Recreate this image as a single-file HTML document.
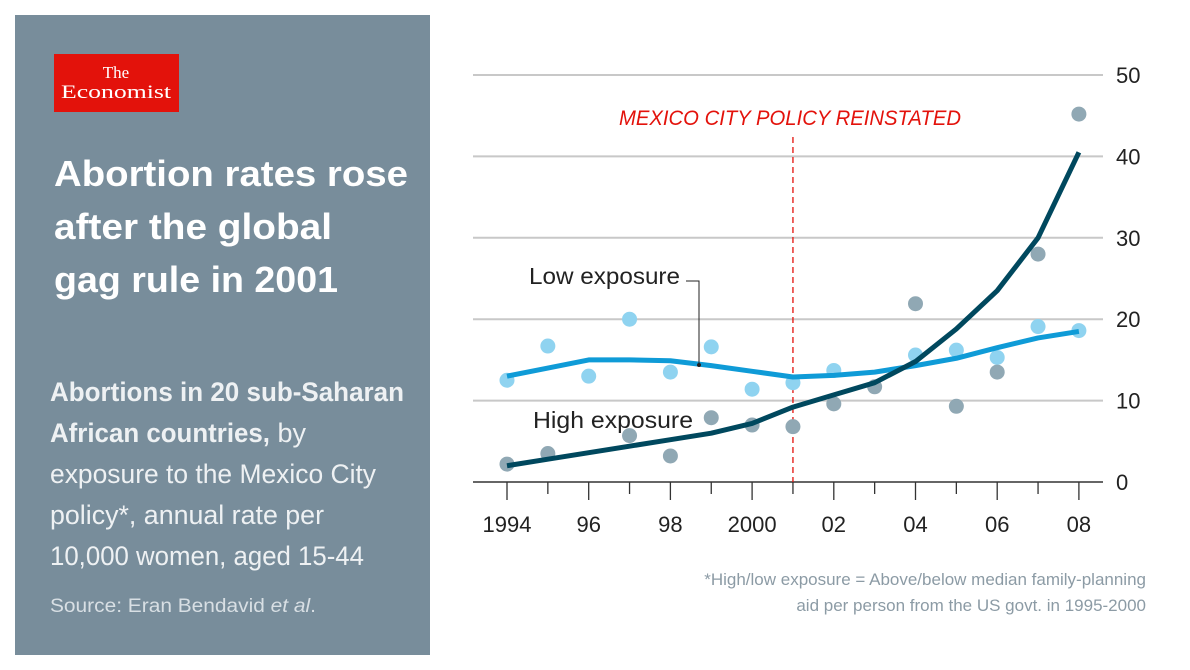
<!DOCTYPE html>
<html><head><meta charset="utf-8"><style>
body{margin:0;background:#fff;}
svg{display:block;font-family:"Liberation Sans",sans-serif;}
</style></head><body>
<svg id="chart" width="1190" height="670" viewBox="0 0 1190 670">
<rect x="15" y="15" width="415" height="640" fill="#788d9b"/>
<g>
<rect x="54" y="54" width="125" height="58" fill="#e3120b"/>
<text x="116" y="78" fill="#fff" font-family="Liberation Serif,serif" font-size="17" text-anchor="middle">The</text>
<text x="116" y="98" fill="#fff" font-family="Liberation Serif,serif" font-size="19" text-anchor="middle" textLength="110" lengthAdjust="spacingAndGlyphs">Economist</text>
</g>
<g fill="#fff" font-weight="bold" font-size="36">
<text x="54" y="186" textLength="354" lengthAdjust="spacingAndGlyphs">Abortion rates rose</text>
<text x="54" y="239" textLength="278" lengthAdjust="spacingAndGlyphs">after the global</text>
<text x="54" y="292" textLength="284" lengthAdjust="spacingAndGlyphs">gag rule in 2001</text>
</g>
<g fill="#eef1f3" font-size="27">
<text x="50" y="401" font-weight="bold" textLength="354" lengthAdjust="spacingAndGlyphs">Abortions in 20 sub-Saharan</text>
<text x="50" y="442"><tspan font-weight="bold" textLength="220" lengthAdjust="spacingAndGlyphs">African countries,</tspan> by</text>
<text x="50" y="483" textLength="326" lengthAdjust="spacingAndGlyphs">exposure to the Mexico City</text>
<text x="50" y="524" textLength="274" lengthAdjust="spacingAndGlyphs">policy*, annual rate per</text>
<text x="50" y="565" textLength="314" lengthAdjust="spacingAndGlyphs">10,000 women, aged 15-44</text>
</g>
<text x="50" y="612" fill="#d8dfe4" font-size="19" textLength="266" lengthAdjust="spacingAndGlyphs">Source: Eran Bendavid <tspan font-style="italic">et al</tspan>.</text>
<g id="grid"></g>
<g id="plot"></g>
<text x="790" y="125" fill="#e3120b" font-style="italic" font-size="21" text-anchor="middle" textLength="342" lengthAdjust="spacingAndGlyphs">MEXICO CITY POLICY REINSTATED</text>
<text x="529" y="284" fill="#222" font-size="23" textLength="151" lengthAdjust="spacingAndGlyphs">Low exposure</text>
<polyline points="686,281 699,281 699,365" fill="none" stroke="#222" stroke-width="1"/>
<circle cx="699" cy="365" r="2" fill="#222"/>
<text x="533" y="428" fill="#222" font-size="23" textLength="160" lengthAdjust="spacingAndGlyphs">High exposure</text>
<g fill="#8c9ba5" font-size="17" text-anchor="end">
<text x="1146" y="585">*High/low exposure = Above/below median family-planning</text>
<text x="1146" y="611">aid per person from the US govt. in 1995-2000</text>
</g>
</svg>
<script>
const years=[1994,1995,1996,1997,1998,1999,2000,2001,2002,2003,2004,2005,2006,2007,2008];
const lowDots=[12.5,16.7,13.0,20.0,13.5,16.6,11.4,12.2,13.7,null,15.6,16.2,15.3,19.1,18.6];
const highDots=[2.2,3.5,null,5.7,3.2,7.9,7.0,6.8,9.6,11.7,21.9,9.3,13.5,28.0,45.2];
const lowLine=[13.0,14.0,15.0,15.0,14.9,14.3,13.6,12.9,13.1,13.5,14.3,15.2,16.5,17.7,18.5];
const highLine=[2.0,2.8,3.6,4.4,5.2,6.0,7.2,9.2,10.7,12.2,14.8,18.8,23.5,30.0,40.5];
const yTicks=[0,10,20,30,40,50];
const xLabels=["1994","96","98","2000","02","04","06","08"];
const policyYear=2001;
const ns="http://www.w3.org/2000/svg";
const X=y=>507+(y-1994)*40.85;
const Y=v=>482-v*8.14;
function mk(tag,attrs,parent){const e=document.createElementNS(ns,tag);for(const k in attrs)e.setAttribute(k,attrs[k]);parent.appendChild(e);return e;}
const grid=document.getElementById('grid'),plot=document.getElementById('plot');
yTicks.forEach(t=>{
  const l=mk('line',{x1:473,x2:1103,y1:Y(t),y2:Y(t),stroke:t===0?'#333':'#c8c8c8','stroke-width':t===0?1.5:2},grid);
  
  
  const tx=mk('text',{x:1116,y:Y(t)+8,'font-size':22,fill:'#222'},grid);tx.textContent=t;
  
  
});
years.forEach(y=>{
  const l=mk('line',{x1:X(y),x2:X(y),y1:482,y2:(y%2===0)?500:494,stroke:'#333','stroke-width':1.3},grid);
  
  
});
xLabels.forEach((s,i)=>{
  const tx=mk('text',{x:X(1994+2*i),y:532,'font-size':22,fill:'#222','text-anchor':'middle'},grid);tx.textContent=s;
  
  
});
const pl=mk('line',{x1:X(policyYear),x2:X(policyYear),y1:137,y2:482,stroke:'#e3120b','stroke-width':1.3,'stroke-dasharray':'6,4'},plot);


years.forEach((y,i)=>{if(lowDots[i]!=null){const c=mk('circle',{cx:X(y),cy:Y(lowDots[i]),r:7.5,fill:'#8fd3f0'},plot);
  
  }});
years.forEach((y,i)=>{if(highDots[i]!=null){const c=mk('circle',{cx:X(y),cy:Y(highDots[i]),r:7.5,fill:'#90a8b4'},plot);
  
  }});
const p1=mk('polyline',{points:years.map((y,i)=>X(y)+','+Y(lowLine[i])).join(' '),fill:'none',stroke:'#0f9bd7','stroke-width':5,'stroke-linejoin':'round'},plot);


const p2=mk('polyline',{points:years.map((y,i)=>X(y)+','+Y(highLine[i])).join(' '),fill:'none',stroke:'#00485e','stroke-width':5,'stroke-linejoin':'round'},plot);


</script>
</body></html>
